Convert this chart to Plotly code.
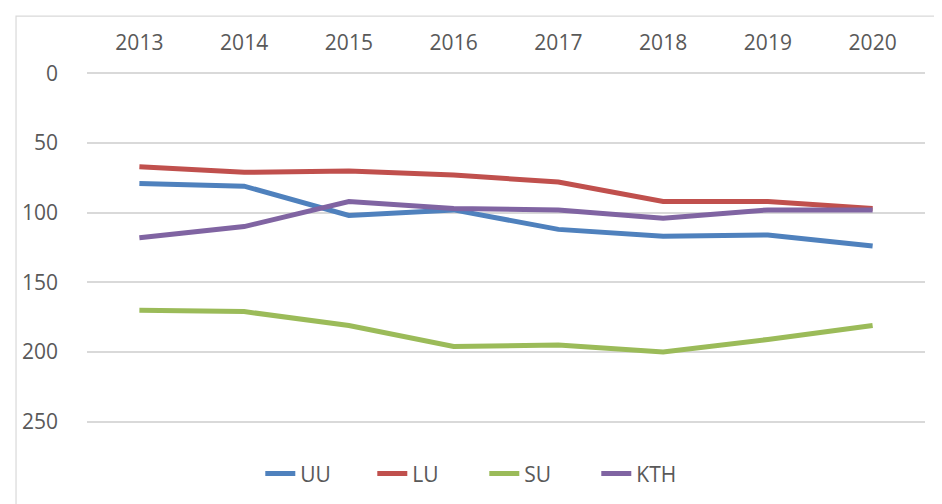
import plotly.graph_objects as go

years = ["2013", "2014", "2015", "2016", "2017", "2018", "2019", "2020"]
uu = [79, 81, 102, 98, 112, 117, 116, 124]
lu = [67, 71, 70, 73, 78, 92, 92, 97]
su = [170, 171, 181, 196, 195, 200, 191, 181]
kth = [118, 110, 92, 97, 98, 104, 98, 98]

series = [("UU", uu, "#4F81BD"), ("LU", lu, "#C0504D"),
          ("SU", su, "#9BBB59"), ("KTH", kth, "#8064A2")]
ytick_vals = [0, 50, 100, 150, 200, 250]

fig = go.Figure()
for name, vals, color in series:
    fig.add_trace(go.Scatter(x=years, y=vals, name=name, mode="lines",
                             line=dict(color=color, width=5)))

font = dict(family="Open Sans, Liberation Sans, sans-serif", size=21, color="#595959")

fig.update_layout(
    width=942, height=504,
    margin=dict(l=78.6, r=25, t=63.6, b=88.6, pad=0, autoexpand=False),
    paper_bgcolor="white", plot_bgcolor="white",
    font=font,
    showlegend=True,
    legend=dict(orientation="h", x=0.2068, xanchor="left", y=-0.145, yanchor="middle",
                font=font, entrywidth=67, entrywidthmode="pixels",
                traceorder="normal", tracegroupgap=0,
                bgcolor="rgba(0,0,0,0)"),
    xaxis=dict(type="category", side="top", range=[-0.5, 7.5], showgrid=False,
               showline=False, zeroline=False, ticks="", ticklabelstandoff=17,
               tickfont=font, automargin=False),
    yaxis=dict(range=[251, -1], tickvals=ytick_vals, ticktext=[str(v) for v in ytick_vals],
               showgrid=True, gridcolor="#D9D9D9", gridwidth=1.5, zeroline=False,
               showline=False, ticks="", ticklabelstandoff=28, tickfont=font,
               automargin=False),
    shapes=[dict(type="rect", xref="paper", yref="paper",
                 x0=-0.0847, x1=1.05, y0=-0.35, y1=1.159,
                 line=dict(color="#D9D9D9", width=1.2), fillcolor="rgba(0,0,0,0)",
                 layer="below")],
)

fig.write_html("out.html")
